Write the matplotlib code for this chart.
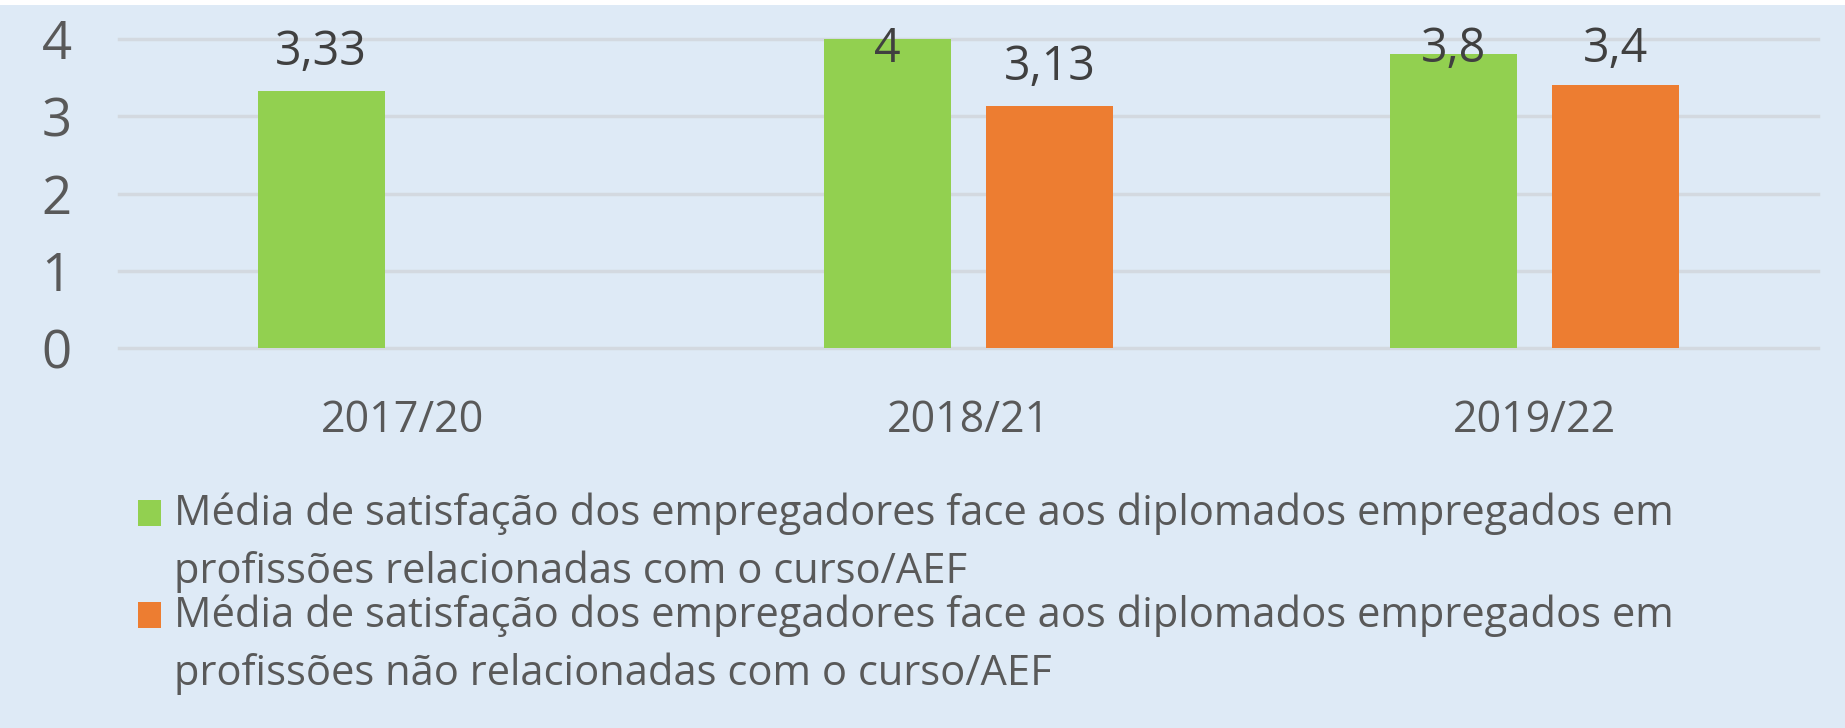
import matplotlib
matplotlib.use("Agg")
import matplotlib.pyplot as plt
import numpy as np
from matplotlib.patches import Rectangle

# data
years = ["2017/20", "2018/21", "2019/22"]
related = [3.33, 4, 3.8]
not_related = [np.nan, 3.13, 3.4]
legend_labels = [
    ["Média de satisfação dos empregadores face aos diplomados empregados em",
     "profissões relacionadas com o curso/AEF"],
    ["Média de satisfação dos empregadores face aos diplomados empregados em",
     "profissões não relacionadas com o curso/AEF"],
]

green = "#92D050"
orange = "#ED7D31"
bg = "#DEEAF6"
text_col = "#595959"

plt.rcParams["font.family"] = ["Open Sans", "DejaVu Sans"]

W, H = 1845, 728
fig = plt.figure(figsize=(W / 100, H / 100), dpi=100, facecolor=bg)
ax = fig.add_axes([119 / W, 1 - 348 / H, (1818 - 119) / W, (348 - 39) / H])
ax.set_facecolor(bg)

# white strip at the very top
fig.add_artist(Rectangle((0, 1 - 5 / H), 1, 5 / H, transform=fig.transFigure,
                         facecolor="white", edgecolor="none"))

x = np.arange(len(years))
bw = 0.224
off = 0.143
ax.bar(x - off, related, bw, color=green, zorder=3)
ax.bar(x + off, not_related, bw, color=orange, zorder=3)

ax.set_xlim(-0.5, len(years) - 0.5)
ax.set_ylim(0, 4)
ax.set_yticks([0, 1, 2, 3, 4])
ax.grid(axis="y", color="#D3D9E0", linewidth=2.5, zorder=0)
for gl in ax.get_ygridlines():
    gl.set_clip_on(False)
for s in ax.spines.values():
    s.set_visible(False)
ax.tick_params(axis="both", length=0, colors=text_col)
ax.tick_params(axis="y", labelsize=38, pad=34)
ax.set_xticks(x)
ax.set_xticklabels(years, fontsize=31)
ax.tick_params(axis="x", pad=36)

# value labels, kept inside the plot top
for xs, vals in [(x - off, related), (x + off, not_related)]:
    for xi, v in zip(xs, vals):
        if np.isnan(v):
            continue
        lab = ("%g" % v).replace(".", ",")
        ax.text(xi, min(v + 0.5, 3.87), lab, ha="center", va="center",
                fontsize=33.5, color="#404040", clip_on=False, zorder=4)

# legend drawn by hand
for i, (lines, c) in enumerate(zip(legend_labels, [green, orange])):
    ytop = 500 + i * 102
    fig.add_artist(Rectangle((138 / W, 1 - (ytop + 26) / H), 23 / W, 26 / H,
                             transform=fig.transFigure, facecolor=c, edgecolor="none"))
    for j, line in enumerate(lines):
        fig.text(174 / W, 1 - (ytop + 14 + j * 58) / H, line, ha="left",
                 va="center", fontsize=30, color=text_col)

fig.savefig("out.png", dpi=100, facecolor=bg)
